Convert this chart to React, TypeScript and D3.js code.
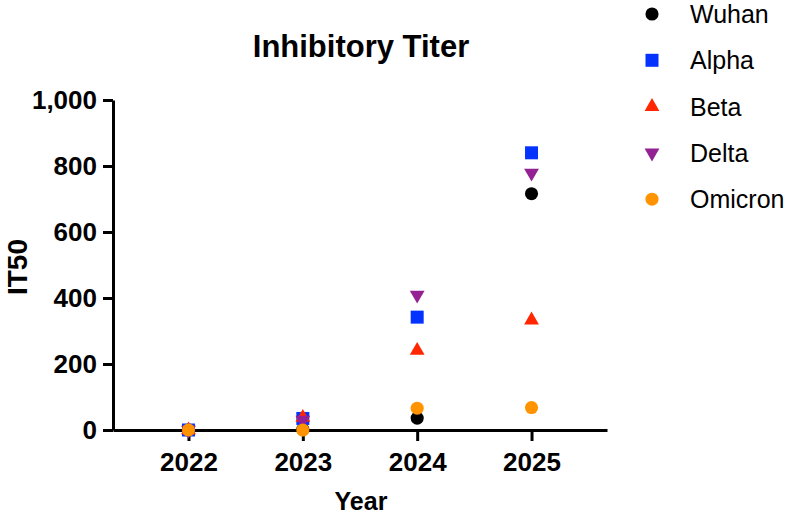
import React, { useRef, useEffect } from "react";
import * as d3 from "d3";

// years on the x axis
const years = ["2022", "2023", "2024", "2025"];

// IT50 values per variant, one per year
const wuhan = [0, 2, 36, 716];
const alpha = [0, 35, 342, 840];
const beta = [0, 38, 241, 333];
const delta = [0, 30, 409, 779];
const omicron = [0, 0, 66, 68];

const seriesNames = ["Wuhan", "Alpha", "Beta", "Delta", "Omicron"];
const yTicks = [0, 200, 400, 600, 800, 1000];

const FONT = "'Liberation Sans', Arial, Helvetica, sans-serif";

const App = () => {
  const svgRef = useRef<SVGSVGElement>(null);

  useEffect(() => {
    const svg = d3.select(svgRef.current);
    svg.selectAll("*").remove();

    const values = [wuhan, alpha, beta, delta, omicron];
    const colors = ["#000000", "#0433ff", "#ff2600", "#942193", "#ff9300"];
    const shapes = [
      { type: d3.symbolCircle, size: 135, rot: 0 },
      { type: d3.symbolSquare, size: 169, rot: 0 },
      { type: d3.symbolTriangle, size: 95, rot: 0 },
      { type: d3.symbolTriangle, size: 95, rot: 180 },
      { type: d3.symbolCircle, size: 135, rot: 0 },
    ];

    var x = d3.scalePoint().domain(years).range([113, 607]).padding(0.66);
    var y = d3.scaleLinear().domain([0, 1000]).range([430, 100]);

    // y axis
    var yAxis = svg
      .append("g")
      .attr("transform", "translate(113,0)")
      .call(
        d3
          .axisLeft(y)
          .tickValues(yTicks)
          .tickFormat(d3.format(","))
          .tickSize(10)
          .tickSizeOuter(0)
          .tickPadding(6)
      );

    // x axis
    var xAxis = svg
      .append("g")
      .attr("transform", "translate(0,430)")
      .call(d3.axisBottom(x).tickSize(11).tickSizeOuter(0).tickPadding(12));

    [xAxis, yAxis].forEach((g) => {
      g.select(".domain").attr("stroke", "#000").attr("stroke-width", 3);
      g.selectAll(".tick line").attr("stroke", "#000").attr("stroke-width", 3);
      g.selectAll(".tick text")
        .attr("fill", "#000")
        .style("font-family", FONT)
        .style("font-size", "26px")
        .style("font-weight", "bold");
    });

    // points
    values.forEach((vals, i) => {
      const sym = d3.symbol().type(shapes[i].type).size(shapes[i].size);
      svg
        .append("g")
        .selectAll("path")
        .data(vals)
        .enter()
        .append("path")
        .attr("d", sym)
        .attr("fill", colors[i])
        .attr(
          "transform",
          (d, j) => `translate(${x(years[j])},${y(d)}) rotate(${shapes[i].rot})`
        );
    });

    // legend
    seriesNames.forEach((name, i) => {
      const cy = 14 + i * 46.3;
      const sym = d3.symbol().type(shapes[i].type).size(shapes[i].size);
      svg
        .append("path")
        .attr("d", sym)
        .attr("fill", colors[i])
        .attr("transform", `translate(652,${cy}) rotate(${shapes[i].rot})`);
      svg
        .append("text")
        .attr("x", 690)
        .attr("y", cy)
        .attr("dy", "0.36em")
        .style("font-family", FONT)
        .style("font-size", "25px")
        .text(name);
    });

    // titles
    svg
      .append("text")
      .attr("x", 361)
      .attr("y", 57)
      .attr("text-anchor", "middle")
      .style("font-family", FONT)
      .style("font-size", "31px")
      .style("font-weight", "bold")
      .text("Inhibitory Titer");

    svg
      .append("text")
      .attr("x", 361)
      .attr("y", 510)
      .attr("text-anchor", "middle")
      .style("font-family", FONT)
      .style("font-size", "25px")
      .style("font-weight", "bold")
      .text("Year");

    svg
      .append("text")
      .attr("transform", "translate(27,267) rotate(-90)")
      .attr("text-anchor", "middle")
      .style("font-family", FONT)
      .style("font-size", "28px")
      .style("font-weight", "bold")
      .text("IT50");
  }, []);

  return (
    <svg
      ref={svgRef}
      width={791}
      height={514}
      style={{ position: "absolute", left: 0, top: 0, background: "#fff" }}
    ></svg>
  );
};

export default App;
